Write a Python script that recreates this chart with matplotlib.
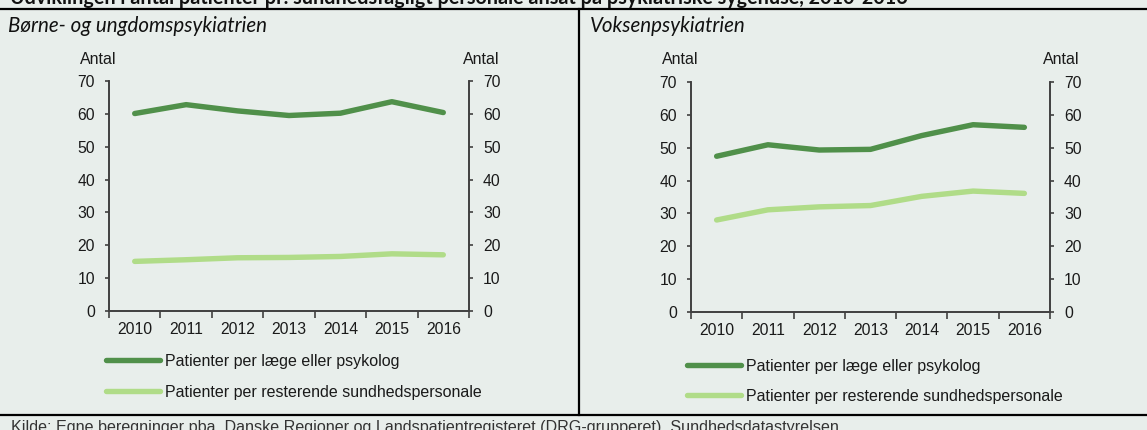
import matplotlib
matplotlib.use("Agg")
from matplotlib import pyplot as plt
from matplotlib.lines import Line2D

years = ["2010", "2011", "2012", "2013", "2014", "2015", "2016"]

# Børne- og ungdomspsykiatrien
bu_laege = [60.1, 62.8, 60.9, 59.5, 60.2, 63.7, 60.4]
bu_rest = [15.1, 15.6, 16.2, 16.3, 16.6, 17.4, 17.1]

# Voksenpsykiatrien
vo_laege = [47.4, 50.9, 49.3, 49.5, 53.7, 57.0, 56.2]
vo_rest = [28.0, 31.1, 32.0, 32.4, 35.2, 36.8, 36.1]

labels = ["Patienter per læge eller psykolog",
          "Patienter per resterende sundhedspersonale"]
dark = "#50904a"
light = "#b0dc88"
bg = "#e8eeeb"
spine_col = "#404040"
txt = "#1a1a1a"

W, H = 1147, 430
fig = plt.figure(figsize=(W / 100, H / 100), dpi=100, facecolor=bg)
plt.rcParams["font.family"] = ["Liberation Sans", "DejaVu Sans"]


def px(x, y):
    return x / W, 1 - y / H


def style_axis(a):
    a.spines["top"].set_visible(False)
    for s in ["left", "bottom", "right"]:
        a.spines[s].set_color(spine_col)
        a.spines[s].set_linewidth(1.2)
    a.tick_params(axis="y", length=3, direction="out", color=spine_col, width=1.2,
                  labelsize=11.3, labelcolor=txt, pad=7)


def panel(x0, x1, ytop, ybot, laege, rest, title, tx, antal_l, antal_r, leg_x, leg_y, spacing):
    left, top = px(x0, ytop)
    right, bottom = px(x1, ybot)
    ax = fig.add_axes([left, bottom, right - left, top - bottom])
    ax.set_facecolor("none")
    xs = list(range(len(years)))
    ax.plot(xs, laege, color=dark, lw=3.9, solid_capstyle="round", solid_joinstyle="round")
    ax.plot(xs, rest, color=light, lw=3.9, solid_capstyle="round", solid_joinstyle="round")
    ax.set_xlim(-0.5, len(years) - 0.5)
    ax.set_ylim(0, 70)
    ax.set_yticks(range(0, 71, 10))
    ax.set_xticks([i - 0.5 for i in range(len(years) + 1)])
    ax.set_xticklabels([])
    ax.set_xticks(xs, minor=True)
    ax.set_xticklabels(years, minor=True)
    ax.tick_params(axis="x", which="minor", length=0, pad=8, labelsize=11.3, colors=txt)
    ax.tick_params(axis="x", which="major", length=5, direction="out", color=spine_col, width=1.2)
    style_axis(ax)

    ax2 = ax.twinx()
    ax2.set_ylim(0, 70)
    ax2.set_yticks(range(0, 71, 10))
    style_axis(ax2)

    fig.text(*px(tx, 32), title, fontsize=14.8, style="italic", family=["Lato", "DejaVu Sans"],
             va="baseline", ha="left", color="#111111")
    fig.text(*px(antal_l, 59), "Antal", fontsize=11.5, ha="center", va="center", color=txt)
    fig.text(*px(antal_r, 59), "Antal", fontsize=11.5, ha="center", va="center", color=txt)

    handles = [Line2D([], [], color=dark, lw=3.9, solid_capstyle="round"),
               Line2D([], [], color=light, lw=3.9, solid_capstyle="round")]
    fig.legend(handles, labels, loc="upper left", bbox_to_anchor=px(leg_x, leg_y),
               frameon=False, fontsize=11.5, handlelength=3.4, handletextpad=0.27,
               labelspacing=spacing, borderpad=0, borderaxespad=0, labelcolor=txt)


panel(109, 469, 81, 311, bu_laege, bu_rest, "Børne- og ungdomspsykiatrien", 8, 98, 481, 106, 354, 1.0)
panel(691, 1050, 82, 312, vo_laege, vo_rest, "Voksenpsykiatrien", 590, 680, 1061, 687, 359, 0.94)

# frame lines
fig.add_artist(Line2D([0, 1], [1 - 8.5 / H] * 2, color="black", lw=1.6))
fig.add_artist(Line2D([0, 1], [1 - 415 / H] * 2, color="black", lw=1.6))
fig.add_artist(Line2D([579 / W] * 2, [1 - 8.5 / H, 1 - 415 / H], color="black", lw=1.6))

fig.text(*px(10, 4), "Udviklingen i antal patienter pr. sundhedsfagligt personale ansat på psykiatriske sygehuse, 2010-2016",
         fontsize=14.2, weight="bold", family=["Lato", "DejaVu Sans"], va="baseline", ha="left", color="#111111")
fig.text(*px(11, 420), "Kilde: Egne beregninger pba. Danske Regioner og Landspatientregisteret (DRG-grupperet), Sundhedsdatastyrelsen",
         fontsize=11.6, va="top", ha="left", color="#333333")

fig.savefig("out.png", dpi=100, facecolor=bg)
